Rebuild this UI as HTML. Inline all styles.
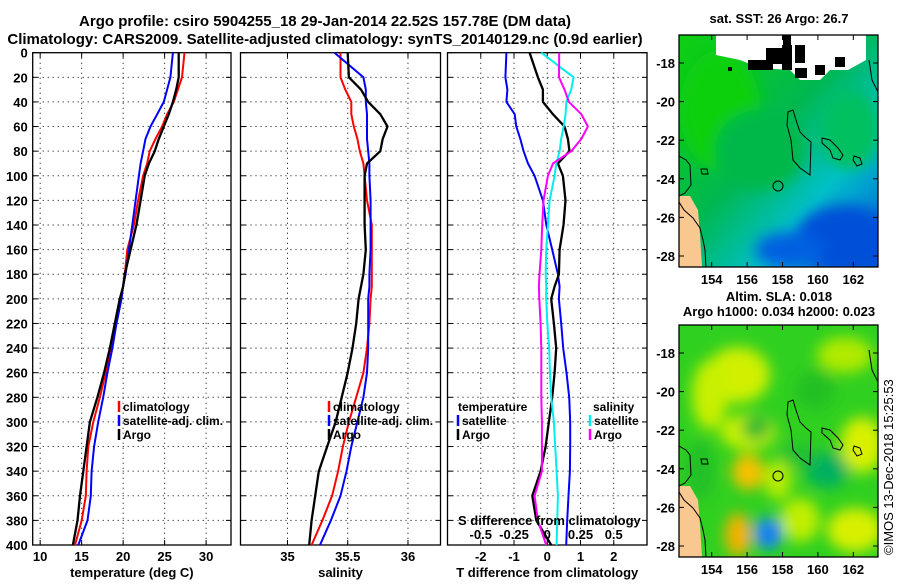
<!DOCTYPE html>
<html><head><meta charset="utf-8"><style>
body{margin:0;background:#fff;width:900px;height:580px;overflow:hidden}
svg text{font-family:"Liberation Sans",Arial,sans-serif;font-weight:bold;fill:#000}
</style></head><body>
<svg id="c" width="900" height="580" xmlns="http://www.w3.org/2000/svg">
<defs>
<filter id="bl" x="-50%" y="-50%" width="200%" height="200%"><feGaussianBlur stdDeviation="7"/></filter>
<clipPath id="m1c"><rect x="679" y="35" width="199" height="232"/></clipPath>
<clipPath id="m2c"><rect x="679" y="325" width="199" height="232"/></clipPath>
<linearGradient id="g1" x1="0" y1="0" x2="1" y2="1"><stop offset="0" stop-color="#10d010"/><stop offset="0.45" stop-color="#00b850"/><stop offset="0.7" stop-color="#00c0c8"/><stop offset="1" stop-color="#0058e0"/></linearGradient>
</defs>
<text x="325" y="26" font-size="15" text-anchor="middle">Argo profile: csiro 5904255_18 29-Jan-2014 22.52S 157.78E (DM data)</text>
<text x="325" y="44" font-size="15" text-anchor="middle">Climatology: CARS2009. Satellite-adjusted climatology: synTS_20140129.nc (0.9d earlier)</text>
<g id="plots"></g>
<g id="maps"></g>
<text transform="translate(893,555) rotate(-90)" font-size="13" style="font-weight:normal">©IMOS 13-Dec-2018 15:25:53</text>
</svg>
<script>
const depths=[0,20,30,40,50,60,70,80,90,100,120,140,160,180,190,200,220,240,260,280,300,320,340,360,380,400];
// temperature (deg C)
const tempClim=[27.4,27.1,26.6,26.1,25.3,24.7,23.9,23.2,22.9,22.4,21.8,21.3,20.5,20.2,20.0,19.7,19.1,18.5,17.9,17.2,16.4,15.8,15.6,15.5,15.0,14.2];
const tempSat=[26.0,25.7,25.3,24.9,24.1,23.3,22.7,22.4,22.1,21.9,21.5,21.1,20.7,20.3,20.0,19.8,19.2,18.7,18.1,17.6,17.0,16.5,16.2,16.1,15.7,14.6];
const tempArgo=[26.7,26.7,26.4,26.0,25.5,24.9,24.3,23.8,23.1,22.6,22.1,21.6,20.9,20.2,20.0,19.6,19.0,18.4,17.7,16.9,16.0,15.6,15.2,14.8,14.5,13.95];
// salinity
const salClim=[35.44,35.44,35.48,35.53,35.53,35.55,35.58,35.60,35.63,35.64,35.66,35.70,35.70,35.70,35.70,35.69,35.68,35.66,35.63,35.57,35.51,35.46,35.42,35.37,35.29,35.20];
const salSat=[35.39,35.63,35.65,35.65,35.66,35.66,35.66,35.67,35.68,35.68,35.69,35.69,35.69,35.68,35.68,35.67,35.67,35.67,35.66,35.63,35.58,35.53,35.49,35.44,35.36,35.27];
const salArgo=[35.50,35.51,35.61,35.67,35.77,35.83,35.79,35.77,35.66,35.64,35.64,35.64,35.65,35.63,35.61,35.59,35.57,35.54,35.50,35.45,35.40,35.33,35.26,35.23,35.20,35.18];
// differences
const tdSat=[-1.23,-1.26,-1.2,-1.23,-0.98,-0.93,-0.81,-0.71,-0.58,-0.38,-0.13,-0.03,0.15,0.32,0.37,0.35,0.42,0.48,0.58,0.66,0.69,0.69,0.68,0.64,0.60,0.57];
const tdArgo=[-0.53,-0.28,-0.13,-0.13,0.17,0.52,0.62,0.67,0.32,0.47,0.55,0.49,0.37,0.35,0.22,0.12,0.20,0.27,0.22,0.15,0.05,-0.05,-0.2,-0.45,-0.33,0.12];
const sdSat=[-0.045,0.198,0.18,0.143,0.138,0.123,0.105,0.093,0.068,0.055,0.018,0.005,-0.008,-0.012,-0.008,-0.008,0.0,0.015,0.02,0.03,0.05,0.06,0.07,0.08,0.075,0.07];
const sdArgo=[0.09,0.088,0.13,0.163,0.256,0.306,0.256,0.18,0.043,0.005,-0.028,-0.038,-0.045,-0.058,-0.063,-0.06,-0.05,-0.045,-0.045,-0.045,-0.04,-0.04,-0.04,-0.095,-0.07,-0.008];
const depthTicks=[0,20,40,60,80,100,120,140,160,180,200,220,240,260,280,300,320,340,360,380,400];
const tTicks=[10,15,20,25,30];
const sTicks=[35,35.5,36];
const dTicks=[-2,-1,0,1,2];
const sdTickLabels=["-0.5","-0.25","0","0.25","0.5"];
const sdTicks=[-0.5,-0.25,0,0.25,0.5];
const latTicks=[-18,-20,-22,-24,-26,-28];
const lonTicks=[154,156,158,160,162];

const NS="http://www.w3.org/2000/svg";
function mk(tag,attrs,parent){const e=document.createElementNS(NS,tag);for(const k in attrs)e.setAttribute(k,attrs[k]);parent.appendChild(e);return e;}
const Y0=52.7,Y1=545;
const yD=d=>Y0+(d/400)*(Y1-Y0);
const P=document.getElementById('plots');
function panel(x0,x1,xmin,xmax,name){
  const xf=v=>x0+(v-xmin)/(xmax-xmin)*(x1-x0);
  const g=mk('g',{},P);
  
  
  return {g,xf,x0,x1};
}
function frame(p,xt,labels,xlabel,showY,xname){
  const {g,xf,x0,x1}=p;
  depthTicks.forEach(d=>{ if(d>0&&d<400){const l=mk('line',{x1:x0,x2:x1,y1:yD(d),y2:yD(d),stroke:'#000','stroke-width':1,'stroke-dasharray':'1,4'},g);}
    mk('line',{x1:x0,x2:x0+5,y1:yD(d),y2:yD(d),stroke:'#000'},g);mk('line',{x1:x1-5,x2:x1,y1:yD(d),y2:yD(d),stroke:'#000'},g);
    if(showY){const t=mk('text',{x:x0-5,y:yD(d)+5,'font-size':13,'text-anchor':'end'},g);t.textContent=d;}
  });
  xt.forEach((v,i)=>{const x=xf(v);const l=mk('line',{x1:x,x2:x,y1:Y0,y2:Y1,stroke:'#000','stroke-width':1,'stroke-dasharray':'1,4'},g);
    mk('line',{x1:x,x2:x,y1:Y0,y2:Y0+5,stroke:'#000'},g);mk('line',{x1:x,x2:x,y1:Y1-5,y2:Y1,stroke:'#000'},g);
    const t=mk('text',{x:x,y:561,'font-size':13,'text-anchor':'middle'},g);t.textContent=labels[i];});
  const r=mk('rect',{x:x0,y:Y0,width:x1-x0,height:Y1-Y0,fill:'none',stroke:'#000','stroke-width':1.3},g);
  const t=mk('text',{x:(x0+x1)/2,y:577,'font-size':13,'text-anchor':'middle'},g);t.textContent=xlabel;
}
function series(p,vals,color,name,w){
  const d=vals.map((v,i)=>(i?'L':'M')+p.xf(v).toFixed(1)+','+yD(depths[i]).toFixed(1)).join('');
  const e=mk('path',{d,fill:'none',stroke:color,'stroke-width':w||2,'stroke-linejoin':'round'},p.g);
  
}
function legend(g,x,y,color,label,name){
  mk('line',{x1:x,x2:x,y1:y-10,y2:y+1,stroke:color,'stroke-width':2.5},g);
  const t=mk('text',{x:x+4,y:y,'font-size':12},g);t.textContent=label;
  
}
const p1=panel(32.7,231,9.1,33.0,'temperature-panel');
frame(p1,tTicks,tTicks,'temperature (deg C)',true,'x-axis-title-temperature');
series(p1,tempClim,'#f00','temp-climatology-line');
series(p1,tempSat,'#00f','temp-satellite-line');
series(p1,tempArgo,'#000','temp-argo-line',2.3);
legend(p1.g,119,411,'#f00','climatology','legend-climatology');
legend(p1.g,119,425,'#00f','satellite-adj. clim.','legend-satellite');
legend(p1.g,119,439,'#000','Argo','legend-argo');
const p2=panel(240.5,440.5,34.61,36.27,'salinity-panel');
frame(p2,sTicks,sTicks,'salinity',false,'x-axis-title-salinity');
series(p2,salClim,'#f00','sal-climatology-line');
series(p2,salSat,'#00f','sal-satellite-line');
series(p2,salArgo,'#000','sal-argo-line',2.3);
legend(p2.g,329,411,'#f00','climatology','legend-climatology');
legend(p2.g,329,425,'#00f','satellite-adj. clim.','legend-satellite');
legend(p2.g,329,439,'#000','Argo','legend-argo');
const p3=panel(447.5,647,-3,3,'difference-panel');
frame(p3,dTicks,dTicks,'T difference from climatology',false,'x-axis-title-difference');
const p3s={g:p3.g,xf:v=>p3.xf(v*4)};
series(p3,tdSat,'#00f','t-diff-satellite-line');
series(p3,tdArgo,'#000','t-diff-argo-line',2.3);
series(p3s,sdSat,'#0ee','s-diff-satellite-line');
series(p3s,sdArgo,'#f0f','s-diff-argo-line');
{const t=mk('text',{x:458,y:411,'font-size':12},p3.g);t.textContent='temperature';}
{const t=mk('text',{x:593,y:411,'font-size':12},p3.g);t.textContent='salinity';}
legend(p3.g,458,425,'#00f','satellite','legend-t-satellite');
legend(p3.g,458,439,'#000','Argo','legend-t-argo');
legend(p3.g,590,425,'#0ee','satellite','legend-s-satellite');
legend(p3.g,590,439,'#f0f','Argo','legend-s-argo');
{const t=mk('text',{x:458,y:525,'font-size':13},p3.g);t.textContent='S difference from climatology';}
sdTicks.forEach((v,i)=>{const t=mk('text',{x:p3s.xf(v),y:539,'font-size':13,'text-anchor':'middle'},p3.g);t.textContent=sdTickLabels[i];});

const M=document.getElementById('maps');
const lonX=l=>711.7+(l-154)*17.7;
function mapFrame(y0,y1,name){
  const g=mk('g',{},M);
  const latY=la=>(y0+28)+(-18-la)*19.3;
  return {g,latY,y0,y1};
}
function axes(m){
  const {g,latY,y0,y1}=m;
  latTicks.forEach(la=>{const y=latY(la);mk('line',{x1:679,x2:684,y1:y,y2:y,stroke:'#000'},g);mk('line',{x1:873,x2:878,y1:y,y2:y,stroke:'#000'},g);
    const t=mk('text',{x:675,y:y+5,'font-size':13,'text-anchor':'end'},g);t.textContent=la;});
  lonTicks.forEach(lo=>{const x=lonX(lo);mk('line',{x1:x,x2:x,y1:y0,y2:y0+5,stroke:'#000'},g);mk('line',{x1:x,x2:x,y1:y1-5,y2:y1,stroke:'#000'},g);
    const t=mk('text',{x:x,y:y1+17,'font-size':13,'text-anchor':'middle'},g);t.textContent=lo;});
  mk('rect',{x:679,y:y0,width:199,height:y1-y0,fill:'none',stroke:'#000','stroke-width':1.3},g);
}
function coast(g,dy){
  const c=mk('g',{transform:`translate(0,${dy})`,fill:'none',stroke:'#000','stroke-width':1},g);
  
  mk('path',{d:'M679,156 L686,160 L690,165 L691,185 L685,193 L679,196'},c);
  mk('path',{d:'M679,202 L684,210 L693,218 L700,228 L703,240 L705,250 L706,267'},c);
  mk('path',{d:'M788,112 L793,110 L796,120 L800,132 L806,138 L811,142 L810,175 L800,168 L793,160 L791,140 L787,125 Z'},c);
  mk('path',{d:'M822,138 L830,140 L838,148 L843,155 L840,160 L833,158 L830,150 L822,143 Z'},c);
  mk('path',{d:'M854,156 L860,158 L862,164 L857,166 L853,160 Z'},c);
  mk('circle',{cx:778,cy:186,r:5},c);
  mk('path',{d:'M701,169 L707,169 L708,174 L702,174 Z'},c);
  mk('path',{d:'M869,60 L872,80 L878,92'},c);
}
const m1=mapFrame(35,267,'sst-map');
{const t=mk('text',{x:779,y:23,'font-size':13,'text-anchor':'middle'},m1.g);t.textContent='sat. SST: 26 Argo: 26.7';}
{const g=mk('g',{'clip-path':'url(#m1c)'},m1.g);
 mk('rect',{x:679,y:35,width:199,height:232,fill:'url(#g1)'},g);
 const b=mk('g',{filter:'url(#bl)'},g);
 mk('ellipse',{cx:720,cy:110,rx:40,ry:60,fill:'#10d010'},b);
 mk('ellipse',{cx:845,cy:240,rx:50,ry:35,fill:'#0050d8'},b);
 mk('ellipse',{cx:790,cy:250,rx:35,ry:18,fill:'#0060e0'},b);
 mk('ellipse',{cx:760,cy:150,rx:45,ry:40,fill:'#00b848'},b);
 mk('ellipse',{cx:850,cy:130,rx:30,ry:40,fill:'#00c060'},b);
 mk('path',{d:'M716,35 L866,35 L866,60 L848,70 L830,70 L820,80 L800,80 L790,70 L760,68 L740,60 L716,55 Z',fill:'#fff'},g);
 [[783,35,8,10],[782,45,10,25],[795,45,10,18],[748,60,25,10],[766,48,16,16],[815,65,10,10],[795,68,12,10],[835,57,10,10],[728,67,4,4]].forEach(r=>mk('rect',{x:r[0],y:r[1],width:r[2],height:r[3],fill:'#000'},g));
 mk('path',{d:'M679,196 L690,196 L698,210 L700,235 L702,267 L679,267 Z',fill:'#f8c890'},g);
 coast(g,0);}
axes(m1);
const m2=mapFrame(325,557,'sla-map');
{const t=mk('text',{x:779,y:301,'font-size':13,'text-anchor':'middle'},m2.g);t.textContent='Altim. SLA: 0.018';}
{const t=mk('text',{x:779,y:316,'font-size':13,'text-anchor':'middle'},m2.g);t.textContent='Argo h1000: 0.034 h2000: 0.023';}
{const g=mk('g',{'clip-path':'url(#m2c)'},m2.g);
 mk('rect',{x:679,y:325,width:199,height:232,fill:'#30d020'},g);
 const b=mk('g',{filter:'url(#bl)'},g);
 [[738,375,32,28,'#d0f000'],[710,395,18,35,'#c8f000'],[748,432,28,18,'#c8f000'],[862,445,22,28,'#d8f000'],[855,530,28,22,'#d8f000'],[845,355,28,18,'#b0ea00'],[800,520,20,22,'#c0ee00'],[778,480,14,20,'#b8ec00'],
  [748,472,16,18,'#f8c000'],[738,535,13,22,'#f8b000'],[756,428,14,12,'#20b830'],[827,470,22,18,'#00b060'],[768,533,14,16,'#1090f0'],[800,455,20,12,'#20c030'],[815,390,20,20,'#20c020'],[700,470,15,30,'#20c028']].forEach(e=>mk('ellipse',{cx:e[0],cy:e[1],rx:e[2],ry:e[3],fill:e[4]},b));
 mk('ellipse',{cx:769,cy:535,rx:6,ry:8,fill:'#2070f0',filter:'url(#bl)'},g);
 mk('path',{d:'M679,486 L690,486 L698,500 L700,525 L702,557 L679,557 Z',fill:'#f8c890'},g);
 coast(g,290);}
axes(m2);
</script>
</body></html>
